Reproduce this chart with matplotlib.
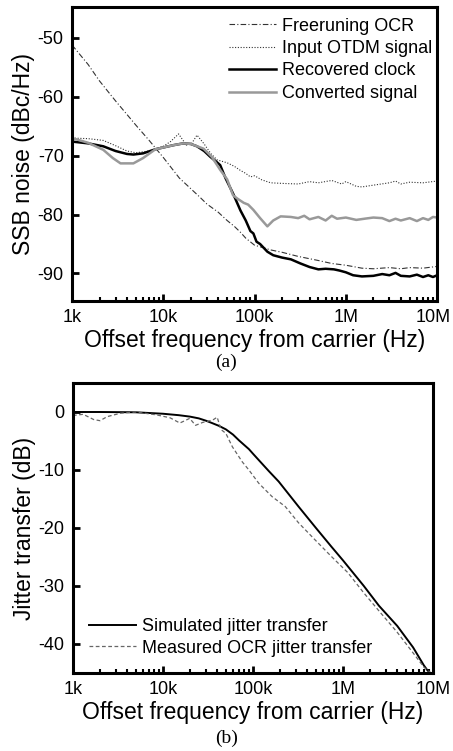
import matplotlib
matplotlib.use("Agg")
import matplotlib.pyplot as plt
import matplotlib.transforms as mtransforms
from matplotlib.ticker import LogLocator, NullFormatter

plt.rcParams['font.family'] = ['Liberation Sans', 'DejaVu Sans']
plt.rcParams['axes.unicode_minus'] = False

# ---------------- data (a) ----------------
free_f = [1e3, 1.5e3, 2e3, 3e3, 4e3, 5e3, 7e3, 1e4, 1.5e4, 2e4, 2.5e4, 3e4, 4e4, 5e4, 6e4, 7e4,
          8e4, 1e5, 1.3e5, 1.5e5, 2e5, 3e5, 5e5, 7e5, 1e6, 1.5e6, 2e6, 3e6, 4e6, 5e6, 7e6, 1e7]
free_v = [-51.2, -54.5, -57.3, -60.7, -63.0, -64.8, -67.4, -70.3, -73.8, -75.6, -77.0, -78.2, -79.6,
          -81.0, -82.0, -83.0, -84.0, -85.2, -85.7, -86.0, -86.4, -87.1, -87.8, -88.3, -88.6, -89.1,
          -89.2, -89.0, -89.2, -89.0, -89.1, -88.8]

otdm_f = [1e3, 1.5e3, 2.2e3, 3e3, 4e3, 5e3, 7e3, 1e4, 1.2e4, 1.47e4, 1.79e4, 2.05e4, 2.34e4, 2.8e4,
          3.3e4, 3.88e4, 5e4, 6e4, 7e4, 8e4, 9e4, 1e5, 1.2e5, 1.5e5, 2e5, 3e5, 4e5, 5e5, 7e5, 9e5,
          1e6, 1.3e6, 1.5e6, 2e6, 3e6, 3.5e6, 4e6, 5e6, 7e6, 1e7]
otdm_v = [-67.0, -67.1, -67.4, -68.3, -69.2, -69.5, -69.2, -68.4, -67.6, -66.3, -68.2, -67.9, -66.5,
          -68.0, -69.6, -70.7, -71.2, -71.8, -72.5, -73.0, -73.6, -73.4, -74.1, -74.6, -74.7, -74.8,
          -74.4, -74.6, -74.2, -74.8, -74.4, -75.2, -75.3, -75.0, -74.6, -74.3, -74.8, -74.5, -74.6,
          -74.3]

rec_f = [1e3, 1.5e3, 2.2e3, 3e3, 4e3, 4.7e3, 6e3, 8.2e3, 1e4, 1.3e4, 1.66e4, 2e4, 2.34e4, 2.8e4,
         3.28e4, 3.8e4, 4.2e4, 4.8e4, 5.8e4, 7e4, 8e4, 9e4, 9.7e4, 1.05e5, 1.15e5, 1.38e5, 1.6e5, 2e5,
         2.5e5, 3.18e5, 4e5, 5e5, 6e5, 7.4e5, 8.5e5, 1e6, 1.2e6, 1.5e6, 2e6, 2.5e6, 3e6, 3.5e6,
         4e6, 5e6, 6e6, 7e6, 8e6, 9e6, 1e7]
rec_v = [-67.6, -67.9, -68.4, -69.2, -69.7, -69.8, -69.6, -68.9, -68.6, -68.2, -67.9, -68.0, -68.4,
         -69.2, -70.2, -71.0, -71.6, -73.8, -76.4, -79.3, -81.0, -82.8, -83.2, -84.6, -85.0, -86.3,
         -86.9, -87.3, -87.6, -88.3, -88.9, -89.3, -89.2, -89.3, -89.5, -89.8, -90.3, -90.5, -90.4,
         -90.1, -90.3, -89.9, -90.4, -90.5, -90.2, -90.6, -90.3, -90.6, -90.3]

conv_f = [1e3, 1.5e3, 2.2e3, 2.8e3, 3.4e3, 4.7e3, 6e3, 8.2e3, 1e4, 1.3e4, 1.66e4, 2e4, 2.76e4,
          3.4e4, 4.2e4, 5e4, 5.8e4, 6.5e4, 7.6e4, 8.5e4, 9.7e4, 1.15e5, 1.38e5, 1.6e5, 1.93e5, 2.5e5,
          3e5, 3.5e5, 4e5, 5e5, 6e5, 7e5, 8e5, 1e6, 1.3e6, 1.6e6, 2e6, 2.5e6, 3e6, 3.5e6, 4e6,
          5e6, 6e6, 7e6, 8e6, 9e6, 1e7]
conv_v = [-67.0, -67.8, -69.0, -70.4, -71.3, -71.3, -70.4, -68.9, -68.6, -68.2, -67.9, -68.0, -68.8,
          -70.2, -72.4, -74.0, -76.7, -77.3, -78.0, -78.3, -79.2, -80.6, -82.0, -81.0, -80.3, -80.4,
          -80.6, -80.2, -80.8, -80.4, -81.0, -80.2, -80.7, -80.5, -80.9, -80.7, -80.5, -80.6, -81.1,
          -80.7, -81.0, -80.6, -81.1, -80.6, -80.9, -80.4, -80.5]

# ---------------- data (b) ----------------
sim_f = [1e3, 2e3, 5e3, 1e4, 1.5e4, 2e4, 2.5e4, 3e4, 3.5e4, 4.2e4, 5e4, 6e4, 7e4, 8e4, 9e4, 1e5,
         1.16e5, 1.5e5, 1.93e5, 2.5e5, 3.2e5, 5e5, 7.4e5, 1e6, 1.7e6, 2.5e6, 4e6, 6e6, 7.9e6, 8.7e6]
sim_v = [0.0, 0.0, -0.05, -0.3, -0.55, -0.8, -1.1, -1.5, -1.9, -2.4, -3.0, -3.9, -4.9, -5.7, -6.4,
         -7.2, -8.3, -10.2, -12.0, -14.2, -16.3, -20.0, -23.2, -25.6, -30.0, -33.4, -36.9, -40.6,
         -43.7, -44.6]

meas_f = [1e3, 1.3e3, 1.7e3, 2e3, 2.4e3, 3.4e3, 5e3, 8.5e3, 1.2e4, 1.54e4, 1.75e4, 1.98e4, 2.3e4,
          2.76e4, 3.56e4, 4e4, 4.4e4, 5e4, 5.9e4, 7.6e4, 9e4, 1.16e5, 1.63e5, 2.28e5, 3.2e5, 4.85e5,
          7.4e5, 1.13e6, 1.7e6, 2.6e6, 4e6, 6.1e6, 7.9e6, 9.5e6]
meas_v = [-0.6, -0.4, -1.3, -1.5, -0.8, -0.2, 0.0, -0.5, -1.0, -1.9, -1.5, -1.1, -2.3, -1.8, -1.4,
          -0.9, -3.0, -3.7, -6.0, -8.6, -10.0, -12.3, -14.6, -16.3, -19.1, -22.0, -24.9, -27.7,
          -31.2, -34.6, -38.0, -41.7, -44.0, -45.0]

xticks = [1e3, 1e4, 1e5, 1e6, 1e7]
xticklabels = ['1k', '10k', '100k', '1M', '10M']

fig = plt.figure(figsize=(4.53, 7.51), dpi=100)
ax1 = fig.add_axes([0.159, 0.599, 0.806, 0.392])
ax2 = fig.add_axes([0.161, 0.104, 0.795, 0.386])

fs_tick = 13
fs_label = 16.5
fs_leg = 13


def style(ax):
    ax.set_xscale('log')
    ax.set_xlim(1e3, 1e7)
    ax.set_xticks(xticks)
    ax.set_xticklabels(xticklabels)
    ax.xaxis.set_minor_locator(LogLocator(base=10, subs=range(2, 10), numticks=20))
    ax.xaxis.set_minor_formatter(NullFormatter())
    for s in ax.spines.values():
        s.set_linewidth(2.2)
    ax.tick_params(axis='both', which='major', direction='in', length=5, width=2,
                   labelsize=fs_tick, top=False, right=False, pad=6)
    ax.tick_params(axis='x', which='minor', direction='in', length=3, width=1.5,
                   top=False)
    ax.tick_params(axis='y', which='minor', left=False, right=False)
    ax.set_xlabel('Offset frequency from carrier (Hz)', fontsize=fs_label, labelpad=2)


ax1.plot(free_f, free_v, color='#333333', lw=0.8, ls=(0, (5, 2, 1, 2)), label='Freeruning OCR')
ax1.plot(otdm_f, otdm_v, color='#333333', lw=0.8, ls=(0, (1, 1.5)), label='Input OTDM signal')
ax1.plot(rec_f, rec_v, color='black', lw=1.8, label='Recovered clock')
ax1.plot(conv_f, conv_v, color='#999999', lw=1.8, label='Converted signal')
style(ax1)
ax1.set_ylim(-94.7, -44.7)
ax1.set_yticks([-50, -60, -70, -80, -90])
ax1.set_ylabel('SSB noise (dBc/Hz)', fontsize=fs_label, labelpad=2)
ax1.legend(loc='upper right', frameon=False, fontsize=fs_leg, handlelength=2.6,
           handletextpad=0.3, labelspacing=0.3, borderaxespad=0.2,
           bbox_to_anchor=(1.015, 1.0))
fig.text(0.5, 1 - 362 / 751, '(a)', ha='center', va='center', fontsize=14,
         family=['Liberation Serif', 'DejaVu Serif'])

# keep the last tick label of the top panel inside the figure
shift = mtransforms.ScaledTranslation(-4 / 100, 0, fig.dpi_scale_trans)
lab = ax1.get_xticklabels()[-1]
lab.set_transform(lab.get_transform() + shift)

ax2.plot(sim_f, sim_v, color='black', lw=1.4, label='Simulated jitter transfer')
ax2.plot(meas_f, meas_v, color='#666666', lw=0.9, ls=(0, (3, 2)), label='Measured OCR jitter transfer')
style(ax2)
ax2.set_ylim(-45, 5)
ax2.set_yticks([0, -10, -20, -30, -40])
ax2.set_ylabel('Jitter transfer (dB)', fontsize=fs_label, labelpad=2)
ax2.legend(loc='lower left', frameon=False, fontsize=fs_leg, handlelength=2.6,
           handletextpad=0.3, labelspacing=0.25, bbox_to_anchor=(0.0, 0.0))
fig.text(0.5, 1 - 738 / 751, '(b)', ha='center', va='center', fontsize=14,
         family=['Liberation Serif', 'DejaVu Serif'])

fig.savefig('out.png', dpi=100)
